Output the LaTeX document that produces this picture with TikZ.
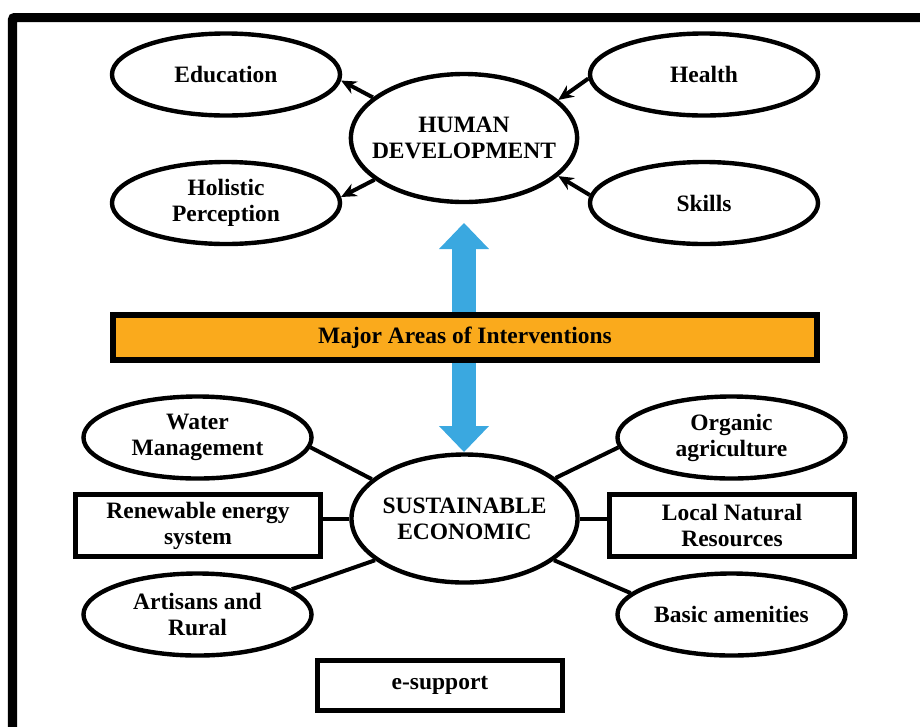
\documentclass[tikz,border=0pt]{standalone}
\usepackage{fontspec}
\setmainfont{Liberation Serif}
\usetikzlibrary{shapes.geometric, arrows.meta}

\definecolor{areaorange}{RGB}{250,170,28}
\definecolor{arrowblue}{RGB}{58,168,224}

\tikzset{
  every node/.style={font=\bfseries\fontsize{16.7pt}{18.5pt}\selectfont, align=center},
  leaf/.style={draw, ellipse, line width=0.11cm, inner sep=0pt, minimum width=5.7cm, minimum height=2.05cm},
  hub/.style={leaf, inner xsep=-0.3cm, minimum width=5.65cm, minimum height=3.2cm},
  block/.style={draw, rectangle, line width=0.13cm, inner sep=0pt, minimum width=6.125cm, minimum height=1.55cm},
  bar/.style={draw, fill=areaorange, line width=0.15cm, inner sep=0pt, minimum width=17.58cm, minimum height=1.125cm},
  link/.style={line width=0.1cm},
  big arrow/.style={arrowblue, line width=0.58cm,
    {Triangle[width=1.25cm, length=0.65cm, line width=0pt]}-{Triangle[width=1.25cm, length=0.65cm, line width=0pt]}},
}

\begin{document}
\begin{tikzpicture}[x=0.025cm, y=-0.025cm, >={Stealth[length=0.38cm, width=0.34cm]}]
            \useasboundingbox (0,0) rectangle (920,726);
            
            % frame
            \draw [line width=0.225cm, rounded corners=0.05cm] (12.5,740) -- (12.5,17.5) -- (935,17.5);
            
            % centres
            \node [hub] (hd) at (464,138) {HUMAN\\DEVELOPMENT};
            \node [hub] (sus) at (464.5,518.5) {SUSTAINABLE\\ECONOMIC};
            
            % blue arrow, behind the bar
            \coordinate (arr-top) at (464,223);
            \coordinate (arr-bot) at (464,452);
            \draw [big arrow] (arr-bot) -- (arr-top);
            
            \node [bar] (areas) at (465,337.5) {Major Areas of Interventions};
            
            % human development
            \foreach \n/\t/\x/\y in {edu/Education/226/74.5, hol/{Holistic\\Perception}/226/203,
                                      hea/Health/704/74.5, ski/Skills/704/203}
            \node [leaf] (\n) at (\x,\y) {\t};
            
            \foreach \n/\a/\b in {edu/156/357, hol/205/3}
            \draw [->, link] (hd.\a) -- (\n.\b);
            
            \foreach \n/\a/\b in {hea/182/22, ski/176/338}
            \draw [->, link] (\n.\a) -- (hd.\b);
            
            % sustainable economic
            \foreach \n/\t/\x/\y in {wat/{Water\\Management}/197.5/437.5, art/{Artisans and\\Rural}/197.5/614.5,
                                      org/{Organic\\agriculture}/731.5/437.5, bas/{Basic amenities}/731.5/614.5}
            \node [leaf] (\n) at (\x,\y) {\t};
            
            \node [block] (ren) at (198,525.5) {Renewable energy\\system};
            \node [block] (loc) at (732,525.5) {Local Natural\\Resources};
            \node [block, minimum height=1.25cm] (sup) at (440,685.5) {e-support};
            
            \foreach \a/\n/\b in {157/wat/355, 205/art/15, 24/org/185, 335/bas/168}
            \draw [link] (sus.\a) -- (\n.\b);
            
            \draw [link] (sus.west) -- (sus.west -| ren.east);
            \draw [link] (sus.east) -- (sus.east -| loc.west);
\end{tikzpicture}
\end{document}
